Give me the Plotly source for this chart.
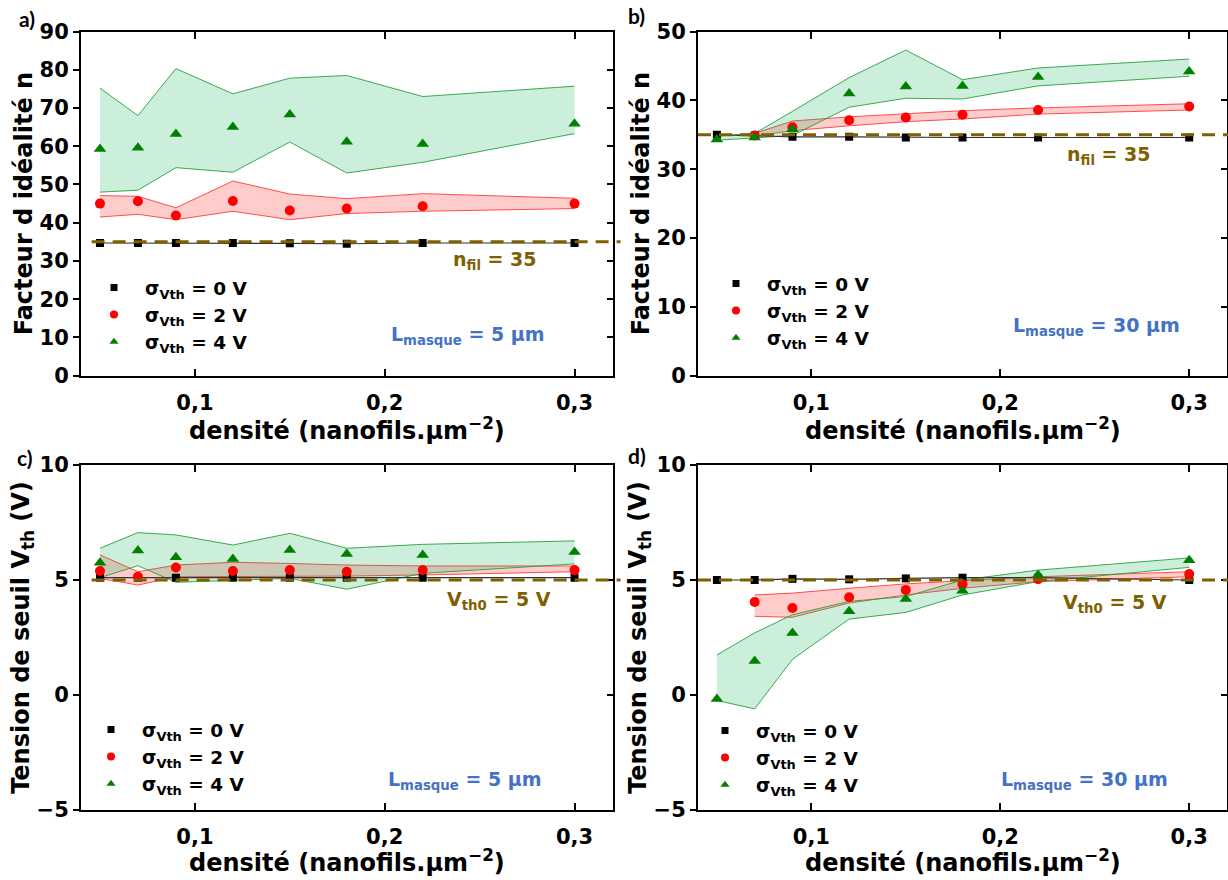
import plotly.graph_objects as go

# ---------------- data ----------------
DENSITY = [0.05, 0.07, 0.09, 0.12, 0.15, 0.18, 0.22, 0.30]
X_TICKS = [0.1, 0.2, 0.3]
X_TICK_TEXT = ["0,1", "0,2", "0,3"]

# a) ideality factor, L_masque = 5 um
A_S0 = [34.7, 34.7, 34.7, 34.7, 34.6, 34.5, 34.7, 34.7]
A_S2 = [45.0, 45.6, 41.9, 45.7, 43.2, 43.7, 44.3, 45.0]
A_S2_HI = [47.1, 46.9, 43.9, 50.9, 47.5, 46.3, 47.6, 46.4]
A_S2_LO = [41.5, 42.2, 40.8, 43.0, 40.8, 42.4, 43.0, 43.7]
A_S4 = [59.3, 59.6, 63.2, 65.0, 68.3, 61.2, 60.6, 65.9]
A_S4_HI = [75.2, 68.0, 80.3, 73.7, 77.8, 78.5, 73.0, 75.7]
A_S4_LO = [48.0, 48.5, 54.4, 53.2, 61.1, 53.0, 55.8, 63.3]

# b) ideality factor, L_masque = 30 um
B_S0 = [35.0, 34.9, 34.7, 34.7, 34.6, 34.6, 34.6, 34.6]
B_S2 = [None, 34.9, 36.1, 37.1, 37.5, 37.9, 38.6, 39.1]
B_S2_HI = [None, 35.2, 37.0, 37.6, 38.1, 38.5, 38.9, 39.5]
B_S2_LO = [None, 34.8, 35.6, 36.3, 36.9, 37.3, 38.0, 38.6]
B_S4 = [34.3, 34.6, 35.8, 41.0, 42.0, 42.1, 43.4, 44.2]
B_S4_HI = [34.8, 35.2, 38.4, 43.3, 47.3, 43.0, 44.7, 46.0]
B_S4_LO = [34.2, 34.5, 34.9, 39.0, 40.3, 40.2, 42.1, 43.5]

# c) threshold voltage, L_masque = 5 um
C_S0 = [5.1, 5.1, 5.1, 5.1, 5.1, 5.1, 5.1, 5.1]
C_S2 = [5.39, 5.14, 5.54, 5.39, 5.43, 5.36, 5.43, 5.43]
C_S2_HI = [6.09, 5.36, 5.65, 5.77, 5.72, 5.65, 5.61, 5.61]
C_S2_LO = [5.07, 4.78, 5.14, 5.14, 5.14, 5.17, 5.22, 5.36]
C_S4 = [5.75, 6.28, 5.99, 5.91, 6.30, 6.13, 6.09, 6.22]
C_S4_HI = [6.38, 7.06, 6.96, 6.52, 7.03, 6.38, 6.55, 6.70]
C_S4_LO = [5.10, 5.62, 4.90, 5.00, 5.07, 4.60, 5.29, 5.70]

# d) threshold voltage, L_masque = 30 um
D_S0 = [5.0, 5.0, 5.05, 5.03, 5.07, 5.1, 5.1, 5.0]
D_S2 = [None, 4.04, 3.78, 4.25, 4.57, 4.81, 5.03, 5.26]
D_S2_HI = [None, 4.35, 4.43, 4.64, 4.83, 4.97, 5.14, 5.36]
D_S2_LO = [None, 3.42, 3.38, 4.00, 4.35, 4.64, 4.93, 5.14]
D_S4 = [-0.17, 1.48, 2.70, 3.64, 4.17, 4.53, 5.22, 5.86]
D_S4_HI = [1.74, 2.70, 3.49, 4.07, 4.28, 5.00, 5.43, 5.96]
D_S4_LO = [-0.24, -0.60, 1.55, 3.30, 3.59, 4.35, 4.93, 5.55]

N_FIL = 35
VTH0 = 5
LEGEND_NAMES = ["σ<sub>Vth</sub> = 0 V", "σ<sub>Vth</sub> = 2 V", "σ<sub>Vth</sub> = 4 V"]
PANEL_LABELS = ["a)", "b)", "c)", "d)"]
YTITLE_N = "Facteur d idéalité n"
YTITLE_V = "Tension de seuil V<sub>th</sub> (V)"
XTITLE = "densité (nanofils.µm<sup>−2</sup>)"
Y_RANGES = [[0, 90], [0, 50], [-5, 10], [-5, 10]]
Y_DTICKS = [10, 10, 5, 5]
X_RANGE = [0.04, 0.32]

# ---------------- styles ----------------
FONT = "DejaVu Sans"
OLIVE = "#7F6000"
BLUE = "#4472C4"
RED = "#FF0000"
GREEN = "#008000"
RED_FILL = "rgba(255,0,0,0.2)"
GREEN_FILL = "rgba(0,176,80,0.2)"
RED_EDGE = "rgba(255,60,60,0.9)"
GREEN_EDGE = "rgba(40,160,60,0.9)"

W, H = 1228, 880
# pixel boxes of plot areas (left, right, top, bottom)
BOXES = [(81, 612.5, 31.5, 375.7), (698, 1227, 31.5, 375.7),
         (81, 612.5, 465, 810), (698, 1227, 465, 810)]
# x-title centres (px from top)
XTITLE_Y = [429, 429, 861, 861]
# legend top-left corners (px)
LEG_POS = [(83, 269), (705, 265), (80, 711), (694, 712)]

panels = [
    dict(s0=A_S0, s2=A_S2, s2h=A_S2_HI, s2l=A_S2_LO, s4=A_S4, s4h=A_S4_HI, s4l=A_S4_LO),
    dict(s0=B_S0, s2=B_S2, s2h=B_S2_HI, s2l=B_S2_LO, s4=B_S4, s4h=B_S4_HI, s4l=B_S4_LO),
    dict(s0=C_S0, s2=C_S2, s2h=C_S2_HI, s2l=C_S2_LO, s4=C_S4, s4h=C_S4_HI, s4l=C_S4_LO),
    dict(s0=D_S0, s2=D_S2, s2h=D_S2_HI, s2l=D_S2_LO, s4=D_S4, s4h=D_S4_HI, s4l=D_S4_LO),
]


def valid(xs, *cols):
    idx = [i for i in range(len(xs)) if all(c[i] is not None for c in cols)]
    return [xs[i] for i in idx], [[c[i] for i in idx] for c in cols]


fig = go.Figure()
layout = dict(width=W, height=H, margin=dict(l=0, r=0, t=0, b=0, autoexpand=False),
              paper_bgcolor="white", plot_bgcolor="white", showlegend=True,
              font=dict(family=FONT, size=21, color="black", weight="bold"),
              shapes=[], annotations=[])

for k, p in enumerate(panels):
    n = k + 1
    xa = "x" if n == 1 else f"x{n}"
    ya = "y" if n == 1 else f"y{n}"
    leg = "legend" if n == 1 else f"legend{n}"
    l, r, t, b = BOXES[k]
    xdom = [l / W, r / W]
    ydom = [1 - b / H, 1 - t / H]

    # bands: red then green
    for lo_key, hi_key, edge, fillc in (("s2l", "s2h", RED_EDGE, RED_FILL),
                                          ("s4l", "s4h", GREEN_EDGE, GREEN_FILL)):
        xs, (lo, hi) = valid(DENSITY, p[lo_key], p[hi_key])
        fig.add_trace(go.Scatter(x=xs, y=lo, mode="lines", line=dict(color=edge, width=1),
                                 xaxis=xa, yaxis=ya, showlegend=False, hoverinfo="skip"))
        fig.add_trace(go.Scatter(x=xs, y=hi, mode="lines", line=dict(color=edge, width=1),
                                 fill="tonexty", fillcolor=fillc,
                                 xaxis=xa, yaxis=ya, showlegend=False, hoverinfo="skip"))

    # sigma = 0 : line + squares
    fig.add_trace(go.Scatter(x=DENSITY, y=p["s0"], mode="lines+markers",
                             line=dict(color="#333333", width=1.2),
                             marker=dict(symbol="square", size=8, color="black"),
                             xaxis=xa, yaxis=ya, showlegend=False))
    xs, (v2,) = valid(DENSITY, p["s2"])
    fig.add_trace(go.Scatter(x=xs, y=v2, mode="markers",
                             marker=dict(symbol="circle", size=10, color=RED),
                             xaxis=xa, yaxis=ya, showlegend=False))
    fig.add_trace(go.Scatter(x=DENSITY, y=p["s4"], mode="markers",
                             marker=dict(symbol="triangle-up", size=11, color=GREEN),
                             xaxis=xa, yaxis=ya, showlegend=False))

    # legend-only entries
    for name, sym, col, sz in zip(LEGEND_NAMES, ["square", "circle", "triangle-up"],
                                  ["black", RED, GREEN], [7, 8, 8]):
        fig.add_trace(go.Scatter(x=[None], y=[None], mode="markers", name=name,
                                 marker=dict(symbol=sym, size=sz, color=col),
                                 xaxis=xa, yaxis=ya, legend=leg))

    ax_key = "xaxis" if n == 1 else f"xaxis{n}"
    ay_key = "yaxis" if n == 1 else f"yaxis{n}"
    layout[ax_key] = dict(domain=xdom, anchor=ya, range=X_RANGE,
                          tickvals=X_TICKS, ticktext=X_TICK_TEXT, automargin=False,
                          ticks="inside", ticklen=7, tickwidth=2, tickcolor="black",
                          showline=True, linewidth=2, linecolor="black", mirror="ticks",
                          showgrid=False, zeroline=False, ticklabelstandoff=7)
    ytitle = YTITLE_N if k < 2 else YTITLE_V
    layout[ay_key] = dict(domain=ydom, anchor=xa, range=Y_RANGES[k], dtick=Y_DTICKS[k],
                          ticks="outside", ticklen=6, tickwidth=2, tickcolor="black",
                          showline=True, linewidth=2, linecolor="black", mirror=True,
                          showgrid=False, zeroline=False, automargin=False,
                          title=dict(text=ytitle, font=dict(size=24), standoff=0))
    # right-side inward ticks
    layout[f"yaxis{n + 4}"] = dict(overlaying=ya, anchor=xa, side="right",
                                   range=Y_RANGES[k], dtick=Y_DTICKS[k], automargin=False,
                                   ticks="inside", ticklen=6, tickwidth=2, tickcolor="black",
                                   showticklabels=False, showline=False, showgrid=False,
                                   zeroline=False)
    fig.add_trace(go.Scatter(x=[None], y=[None], xaxis=xa, yaxis=f"y{n + 4}",
                             showlegend=False, hoverinfo="skip"))

    # x-axis title (placed just under the tick labels)
    layout["annotations"].append(dict(xref=f"{xa} domain", yref=f"{ya} domain",
                                      x=0.5, y=-(XTITLE_Y[k] - b) / (b - t),
                                      text=XTITLE, showarrow=False,
                                      xanchor="center", yanchor="middle",
                                      font=dict(family=FONT, size=24, color="black", weight="bold")))

    # legend box
    lx, ly = LEG_POS[k]
    layout[leg] = dict(x=lx / W, y=1 - ly / H, xanchor="left", yanchor="top",
                       bgcolor="rgba(0,0,0,0)", itemwidth=52, tracegroupgap=0,
                       traceorder="normal",
                       font=dict(family=FONT, size=18.5, color="black", weight="bold"))

    # reference dashed line
    ref_val = N_FIL if k < 2 else VTH0
    x0 = 0.02 if k in (0, 2) else 0.0
    layout["shapes"].append(dict(type="line", xref=f"{xa} domain", yref=ya,
                                 x0=x0, x1=1.015, y0=ref_val, y1=ref_val, layer="above",
                                 line=dict(color=OLIVE, width=3, dash="13px,8px")))

# annotations in data coordinates
ann = [
    ("x", "y", 0.258, 30.0, "n<sub>fil</sub> = 35", OLIVE),
    ("x2", "y2", 0.2576, 32.0, "n<sub>fil</sub> = 35", OLIVE),
    ("x3", "y3", 0.26, 4.1, "V<sub>th0</sub> = 5 V", OLIVE),
    ("x4", "y4", 0.2608, 4.0, "V<sub>th0</sub> = 5 V", OLIVE),
    ("x", "y", 0.2437, 10.6, "L<sub>masque</sub> = 5 µm", BLUE),
    ("x2", "y2", 0.2508, 7.1, "L<sub>masque</sub> = 30 µm", BLUE),
    ("x3", "y3", 0.2424, -3.7, "L<sub>masque</sub> = 5 µm", BLUE),
    ("x4", "y4", 0.2445, -3.7, "L<sub>masque</sub> = 30 µm", BLUE),
]
for xr, yr, xv, yv, txt, col in ann:
    layout["annotations"].append(dict(xref=xr, yref=yr, x=xv, y=yv, text=txt, showarrow=False,
                                      xanchor="center", yanchor="middle",
                                      font=dict(family=FONT, size=19, color=col, weight="bold")))

for lab, (px, py) in zip(PANEL_LABELS, [(27, 18), (636, 15), (25, 457), (637, 455)]):
    layout["annotations"].append(dict(xref="paper", yref="paper", x=px / W, y=1 - py / H,
                                      text=lab, showarrow=False,
                                      xanchor="center", yanchor="middle",
                                      font=dict(family="Lato", size=21, color="black", weight="bold")))

fig.update_layout(**layout)
fig.write_html("out.html", config={"displayModeBar": False},
               post_script="document.body.style.margin='0px';document.body.style.overflow='hidden';")
